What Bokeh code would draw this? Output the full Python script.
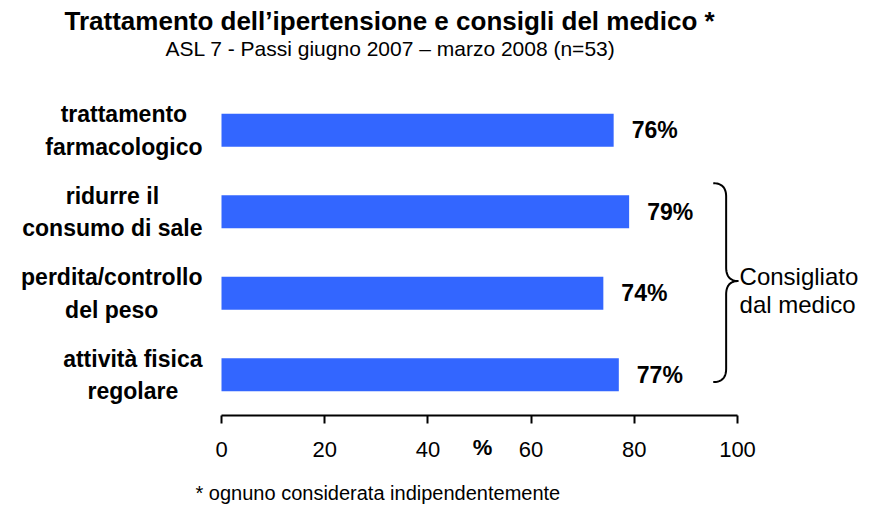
import glob
import numpy as np
from bokeh.plotting import figure
from bokeh.layouts import column
from bokeh.models import Range1d, FixedTicker, LinearAxis
from bokeh.core.properties import value
from bokeh.embed import file_html
from bokeh.resources import INLINE

# Data
categories = [
    "trattamento\nfarmacologico",
    "ridurre il\nconsumo di sale",
    "perdita/controllo\ndel peso",
    "attività fisica\nregolare",
]
percentages = [76, 79, 74, 77]
x_ticks = [0, 20, 40, 60, 80, 100]

title_text = "Trattamento dell\u2019ipertensione e consigli del medico *"
subtitle_text = "ASL 7 - Passi giugno 2007 \u2013 marzo 2008 (n=53)"
footnote_text = "* ognuno considerata indipendentemente"
brace_text = "Consigliato\ndal medico"
axis_unit = "%"

FONT = "Liberation Sans"
BAR_COLOR = "#3366FF"

W, H = 874, 507
MAIN_H = 477                 # main chart; the footnote strip fills the rest
LEFT = 221                   # page x of the value 0
FRAME_TOP, FRAME_BOTTOM = 39, 415
PX_PER_PCT = 5.16            # horizontal scale of the value axis
PX_PER_CAT = 81.5            # vertical distance between categories
CAT_FONT_PX = 23
CAT_GAP_PX = 19              # gap between category names and the bars


def text_width(s, size_px, bold=False):
    """Pixel width of a single line set in Liberation Sans."""
    name = "LiberationSans-Bold.ttf" if bold else "LiberationSans-Regular.ttf"
    try:
        from PIL import ImageFont
        paths = glob.glob(f"/usr/share/fonts/**/{name}", recursive=True) + \
            glob.glob(f"/usr/local/share/fonts/**/{name}", recursive=True)
        font = ImageFont.truetype(paths[0], size_px)
        return font.getlength(s)
    except Exception:
        return 0.6 * size_px * len(s)


def page_x(px):
    return (px - LEFT) / PX_PER_PCT


def page_y(py):
    return -0.5 + (FRAME_BOTTOM - py) / PX_PER_CAT


n = len(categories)
ypos = list(range(n - 1, -1, -1))  # first category on top
labels = [f"{v}%" for v in percentages]

p = figure(
    width=W, height=MAIN_H,
    x_range=Range1d(page_x(0), page_x(W)),
    y_range=Range1d(-0.5, page_y(FRAME_TOP)),
    output_backend="svg", toolbar_location=None, y_axis_location=None,
    min_border_left=0, min_border_right=0,
    min_border_top=FRAME_TOP, min_border_bottom=MAIN_H - FRAME_BOTTOM,
)
p.outline_line_color = None
p.grid.visible = False
p.background_fill_color = "white"
p.border_fill_color = "white"

# Bars
p.hbar(y=ypos, left=0, right=percentages, height=0.405,
       fill_color=BAR_COLOR, line_color=None)

# Value labels
p.text(x=percentages, y=ypos, text=labels, x_offset=18,
       text_baseline="middle", text_align="left",
       text_font=value(FONT), text_font_style="bold",
       text_font_size="23px", text_color="black")

# Category names: lines centred within each block, blocks right-aligned to the bars
cat_offsets = [
    -(CAT_GAP_PX + max(text_width(line, CAT_FONT_PX, bold=True) for line in c.split("\n")) / 2)
    for c in categories
]
p.text(x=[0] * n, y=ypos, text=categories, x_offset=cat_offsets,
       text_align="center", text_baseline="middle",
       text_font=value(FONT), text_font_style="bold",
       text_font_size=f"{CAT_FONT_PX}px", text_line_height=1.25,
       text_color="black")

# X axis
xa = p.xaxis[0]
xa.ticker = FixedTicker(ticks=x_ticks)
xa.bounds = (0, 100)
xa.axis_line_width = 2
xa.axis_line_color = "black"
xa.major_tick_line_width = 2
xa.major_tick_in = 0
xa.major_tick_out = 8
xa.minor_tick_line_color = None
xa.major_label_standoff = 18
xa.major_label_text_font = FONT
xa.major_label_text_font_size = "22px"
xa.major_label_text_color = "black"

# Unit sign, set in the tick-label row between 40 and 60
unit_pos = 50.6
unit_axis = LinearAxis(
    ticker=FixedTicker(ticks=[unit_pos]),
    major_label_overrides={unit_pos: axis_unit},
    axis_line_color=None, major_tick_line_color=None, minor_tick_line_color=None,
    major_tick_in=0, major_tick_out=0, major_label_standoff=-25,
    major_label_text_font=FONT, major_label_text_font_style="bold",
    major_label_text_font_size="22px", major_label_text_color="black",
)
p.add_layout(unit_axis, "below")

# Curly brace grouping the three lifestyle recommendations
def quad(p0, c, p1, steps=20):
    t = np.linspace(0, 1, steps)[:, None]
    return (1 - t) ** 2 * np.array(p0) + 2 * (1 - t) * t * np.array(c) + t ** 2 * np.array(p1)

bx_end, bx_mid, bx_tip = 95.3, 97.8, 100.2
by_top, by_tip, by_bot = 2.35, 1.15, -0.09
r = 0.165
segs = [
    quad((bx_end, by_top), (bx_mid, by_top), (bx_mid, by_top - r)),
    np.array([(bx_mid, by_top - r), (bx_mid, by_tip + r)]),
    quad((bx_mid, by_tip + r), (bx_mid, by_tip), (bx_tip, by_tip)),
    quad((bx_tip, by_tip), (bx_mid, by_tip), (bx_mid, by_tip - r)),
    np.array([(bx_mid, by_tip - r), (bx_mid, by_bot + r)]),
    quad((bx_mid, by_bot + r), (bx_mid, by_bot), (bx_end, by_bot)),
]
path = np.vstack(segs)
p.line(path[:, 0], path[:, 1], line_color="black", line_width=2)

p.text(x=[bx_tip + 0.2], y=[1.03], text=[brace_text],
       text_baseline="middle", text_align="left",
       text_font=value(FONT), text_font_size="24px",
       text_line_height=1.05, text_color="black")

# Title above the frame, subtitle just inside its top
p.title.text = title_text
p.title.align = "left"
p.title.offset = 64
p.title.text_font = FONT
p.title.text_font_style = "bold"
p.title.text_font_size = "26px"
p.title.text_color = "black"
p.title.standoff = 7

p.text(x=[page_x(390)], y=[page_y(48)], text=[subtitle_text],
       text_align="center", text_baseline="middle",
       text_font=value(FONT), text_font_size="21px", text_color="black")

# Footnote strip
foot_h = H - MAIN_H
f = figure(
    width=W, height=foot_h,
    x_range=Range1d(0, W), y_range=Range1d(0, foot_h),
    output_backend="svg", toolbar_location=None,
    x_axis_location=None, y_axis_location=None,
    min_border=0,
)
f.outline_line_color = None
f.grid.visible = False
f.border_fill_color = "white"
f.text(x=[195], y=[foot_h / 2], text=[footnote_text], text_align="left",
       text_baseline="middle", text_font=value(FONT),
       text_font_size="20px", text_color="black")

layout = column(p, f, spacing=0)
open("out.html", "w").write(file_html(layout, INLINE))
